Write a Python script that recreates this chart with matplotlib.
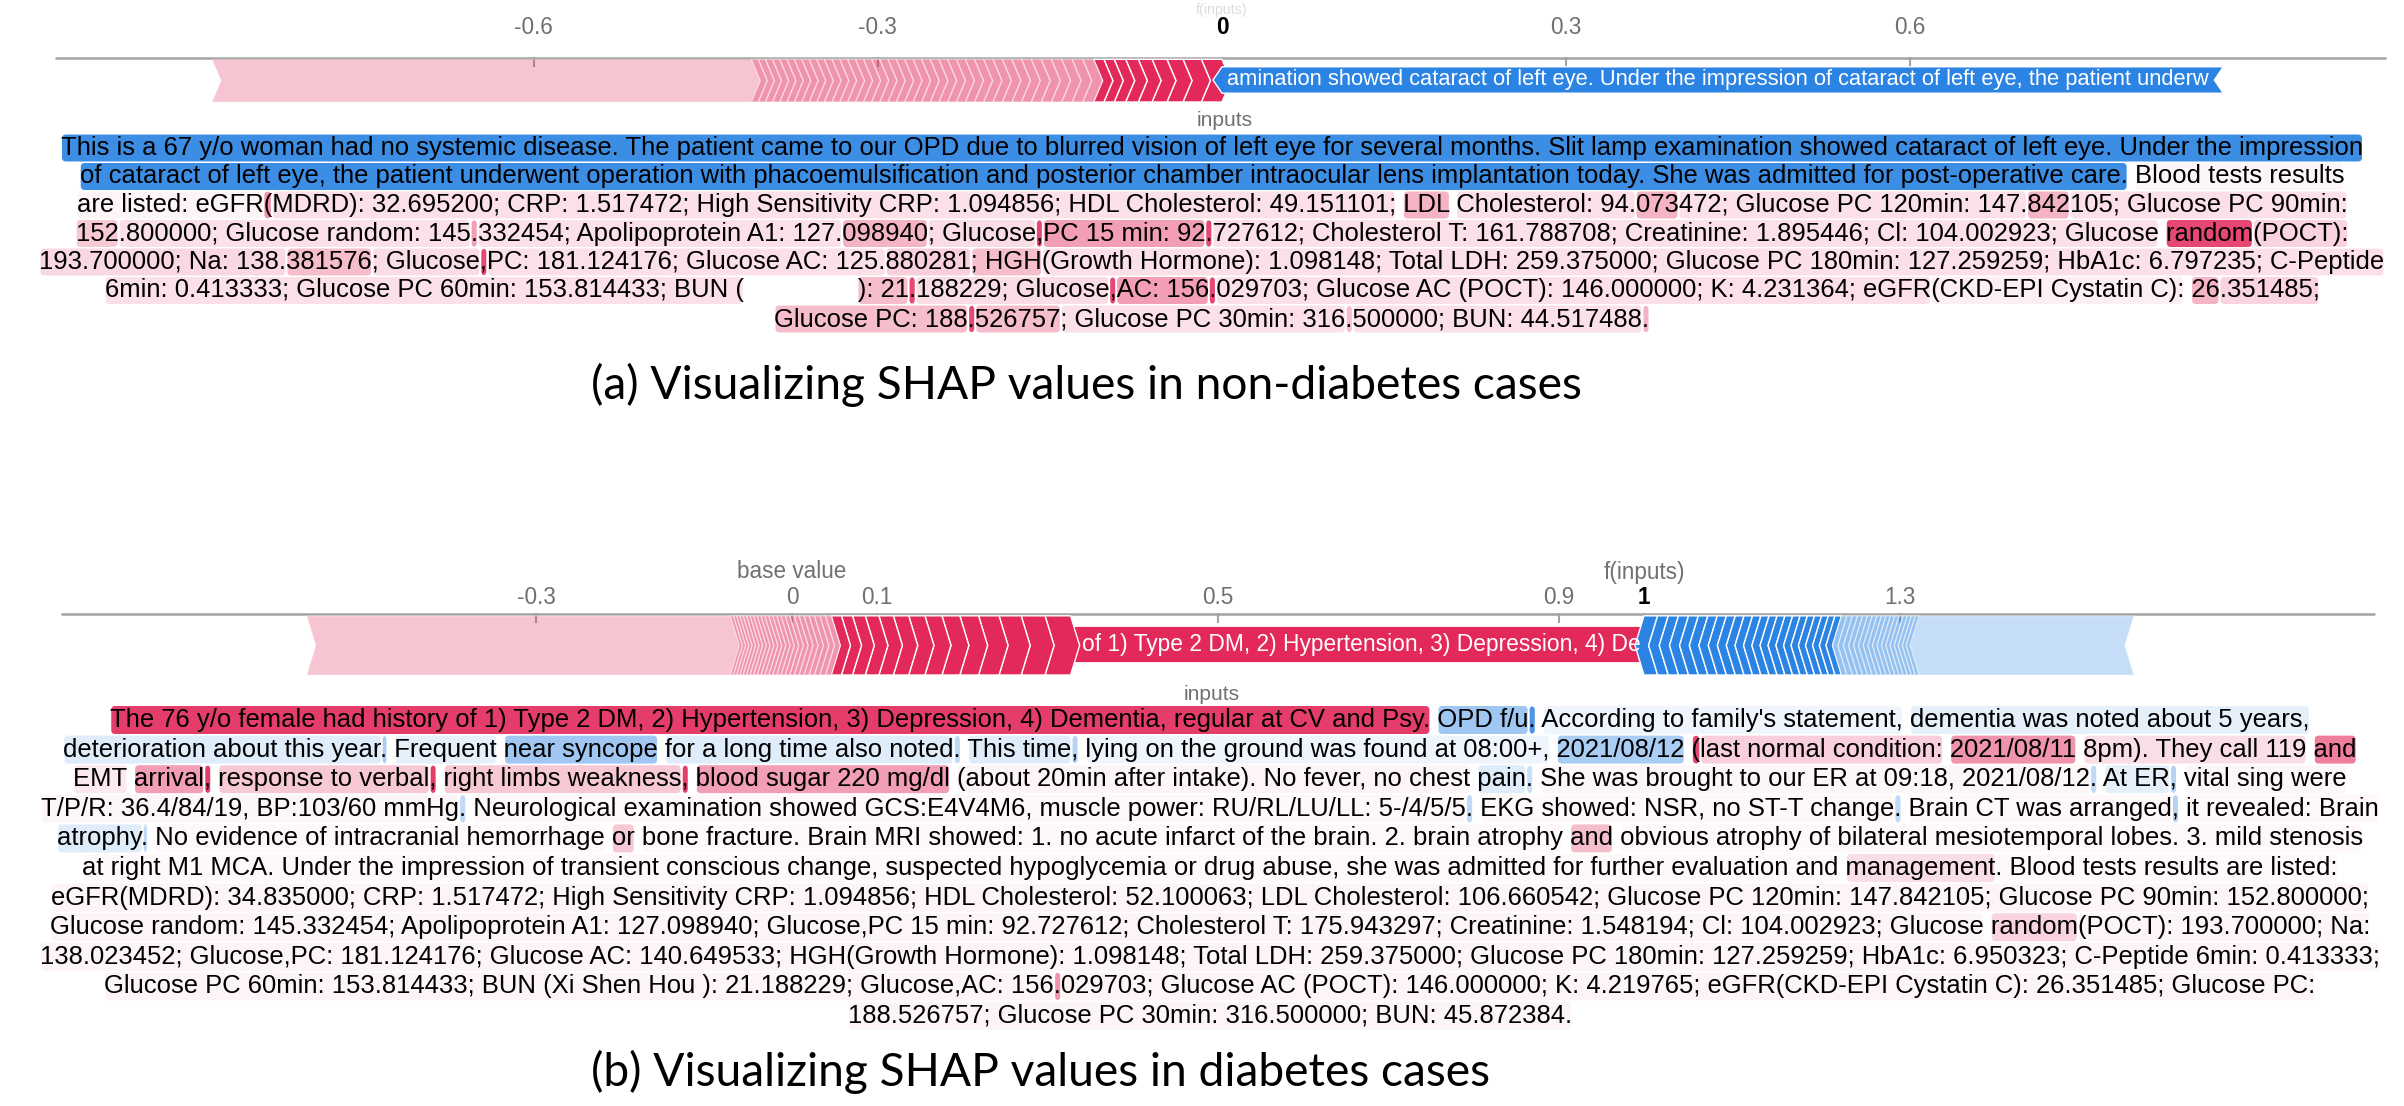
import matplotlib
matplotlib.use('Agg')
import matplotlib.pyplot as plt
from matplotlib import font_manager
from matplotlib.patches import Polygon, FancyBboxPatch

# ---------------- data ----------------
top_ticks = [-0.6, -0.3, 0, 0.3, 0.6]
top_fx = 0.0
top_red_strong = [0.018, 0.016, 0.014, 0.013, 0.012, 0.011, 0.010, 0.009, 0.009]
top_red_thin = [0.0095, 0.0093, 0.0091, 0.0090, 0.0088, 0.0087, 0.0085, 0.0084, 0.0083, 0.0082,
                0.0081, 0.0080, 0.0079, 0.0078, 0.0077, 0.0076, 0.0076, 0.0075, 0.0074, 0.0074,
                0.0073, 0.0072, 0.0072, 0.0071, 0.0070, 0.0070, 0.0069, 0.0068, 0.0068, 0.0067,
                0.0066, 0.0066, 0.0065, 0.0065, 0.0064, 0.0063, 0.0063, 0.0062, 0.0062, 0.0061]
top_red_rest = 0.470
top_blue_label = 0.873
top_blue_text = ("amination showed cataract of left eye. Under the impression of "
                 "cataract of left eye, the patient underw")

bot_ticks = [-0.3, 0, 0.1, 0.5, 0.9, 1, 1.3]
bot_base = 0.0
bot_fx = 1.0
bot_red_label = 0.673
bot_red_text = "of 1) Type 2 DM, 2) Hypertension, 3) Depression, 4) De"
bot_red_strong = [0.030, 0.028, 0.026, 0.024, 0.022, 0.021, 0.020, 0.019, 0.018, 0.017,
                  0.016, 0.015, 0.013, 0.012]
bot_red_thin = [0.0068, 0.0066, 0.0064, 0.0062, 0.0060, 0.0058, 0.0056, 0.0054, 0.0052, 0.0050,
                0.0049, 0.0048, 0.0047, 0.0046, 0.0045, 0.0044, 0.0043, 0.0042, 0.0041, 0.0040,
                0.0039, 0.0038, 0.0037, 0.0036]
bot_red_rest = 0.497
bot_blue_strong = [0.016, 0.0125, 0.012, 0.0118, 0.0115, 0.0112, 0.011, 0.0107, 0.0105, 0.0102,
                   0.010, 0.0098, 0.0096, 0.0094, 0.0092, 0.009, 0.0088, 0.0086, 0.0084, 0.0082,
                   0.008, 0.0078, 0.0076]
bot_blue_thin = [0.0065, 0.0063, 0.0061, 0.0059, 0.0057, 0.0056, 0.0055, 0.0054, 0.0053, 0.0052,
                 0.0051, 0.0050, 0.0049, 0.0048, 0.0047, 0.0046, 0.0045]
bot_blue_rest = 0.252

# text segments: (text, shap score) ; >0 red, <0 blue, None = no highlight
text_a = [
    [("This is a 67 y/o woman had no systemic disease. The patient came to our OPD due to blurred vision "
      "of left eye for several months. Slit lamp examination showed cataract of left eye. Under the impression", -0.92)],
    [("of cataract of left eye, the patient underwent operation with phacoemulsification and posterior chamber "
      "intraocular lens implantation today. She was admitted for post-operative care.", -0.92),
     (" Blood tests results", 0.04)],
    [("are listed: eGFR", 0.05), ("(", 0.5),
     ("MDRD): 32.695200; CRP: 1.517472; High Sensitivity CRP: 1.094856; HDL Cholesterol: 49.151101;", 0.14),
     (" LDL", 0.35), (" Cholesterol: 94.", 0.14), ("073", 0.35), ("472; Glucose PC 120min: 147.", 0.14),
     ("842", 0.35), ("105; Glucose PC 90min:", 0.14)],
    [("152", 0.25), (".800000; Glucose random: 145", 0.14), (".", 0.45),
     ("332454; Apolipoprotein A1: 127.", 0.14), ("098940", 0.35), ("; Glucose", 0.16), (",", 0.85),
     ("PC 15 min: 92", 0.45), (".", 0.85),
     ("727612; Cholesterol T: 161.788708; Creatinine: 1.895446; Cl: 104.002923; Glucose", 0.14),
     (" random", 0.85), ("(POCT):", 0.2)],
    [("193.700000; Na: 138.", 0.18), ("381576", 0.3), ("; Glucose", 0.16), (",", 0.85),
     ("PC: 181.124176; Glucose AC: 125.", 0.14), ("880281", 0.22), ("; HGH", 0.3),
     ("(Growth Hormone): 1.098148; Total LDH: 259.375000; Glucose PC 180min: 127.259259; "
      "HbA1c: 6.797235; C-Peptide", 0.14)],
    [("6min: 0.413333; Glucose PC 60min: 153.814433; BUN (", 0.14), ("                ", None),
     ("): 21", 0.3), (".", 0.85), ("188229; Glucose", 0.16), (",", 0.85), ("AC: 156", 0.45), (".", 0.85),
     ("029703; Glucose AC (POCT): 146.000000; K: 4.231364; eGFR", 0.14),
     ("(CKD-EPI Cystatin C):", 0.08), (" 26", 0.35), (".351485;", 0.2)],
    [("Glucose PC: 188", 0.3), (".", 0.85), ("526757", 0.3), ("; Glucose PC 30min: 316", 0.14),
     (".", 0.3), ("500000; BUN: 44.517488", 0.14), (".", 0.35)],
]

text_b = [
    [("The 76 y/o female had history of 1) Type 2 DM, 2) Hypertension, 3) Depression, 4) Dementia, "
      "regular at CV and Psy.", 0.9), (" OPD f/u", -0.45), (".", -0.85),
     (" According to family's statement,", -0.08), (" dementia was noted about 5 years,", -0.12)],
    [("deterioration about this year", -0.15), (".", -0.4), (" Frequent", -0.12), (" near syncope", -0.45),
     (" for a long time also noted", -0.15), (".", -0.3), (" This time", -0.15), (",", -0.35),
     (" lying on the ground was found at 08:00+,", -0.08), (" 2021/08/12", -0.4), (" ", None),
     ("(", 0.85), ("last normal condition:", 0.22), (" 2021/08/11", 0.5), (" 8pm). They call 119", 0.15),
     (" and", 0.6)],
    [("EMT", 0.1), (" arrival", 0.45), (",", 0.9), (" response to verbal", 0.25), (",", 0.9),
     (" right limbs weakness", 0.25), (",", 0.9), (" blood sugar 220 mg/dl", 0.45),
     (" (about 20min after intake). No fever, no chest", 0.05), (" pain", -0.15), (".", -0.25),
     (" She was brought to our ER at 09:18, 2021/08/12", 0.04), (".", -0.3), (" At ER", -0.12),
     (",", -0.35), (" vital sing were", 0.04)],
    [("T/P/R: 36.4/84/19, BP:103/60 mmHg", 0.04), (".", -0.3),
     (" Neurological examination showed GCS:E4V4M6, muscle power: RU/RL/LU/LL: 5-/4/5/5", 0.03), (".", -0.3),
     (" EKG showed: NSR, no ST-T change", 0.03), (".", -0.3), (" Brain CT was arranged", 0.03), (",", -0.35),
     (" it revealed: Brain", 0.03)],
    [("atrophy", -0.15), (".", -0.3), (" No evidence of intracranial hemorrhage", 0.03), (" or", 0.25),
     (" bone fracture. Brain MRI showed: 1. no acute infarct of the brain. 2. brain atrophy", 0.03),
     (" and", 0.3), (" obvious atrophy of bilateral mesiotemporal lobes. 3. mild stenosis", 0.03)],
    [("at right M1 MCA. Under the impression of transient conscious change, suspected hypoglycemia or drug "
      "abuse, she was admitted for further evaluation and", 0.03), (" management", 0.15),
     (". Blood tests results are listed:", 0.03)],
    [("eGFR(MDRD): 34.835000; CRP: 1.517472; High Sensitivity CRP: 1.094856; HDL Cholesterol: 52.100063; "
      "LDL Cholesterol: 106.660542; Glucose PC 120min: 147.842105; Glucose PC 90min: 152.800000;", 0.05)],
    [("Glucose random: 145.332454; Apolipoprotein A1: 127.098940; Glucose,PC 15 min: 92.727612; "
      "Cholesterol T: 175.943297; Creatinine: 1.548194; Cl: 104.002923; Glucose", 0.05), (" random", 0.2),
     ("(POCT): 193.700000; Na:", 0.05)],
    [("138.023452; Glucose,PC: 181.124176; Glucose AC: 140.649533; HGH(Growth Hormone): 1.098148; "
      "Total LDH: 259.375000; Glucose PC 180min: 127.259259; HbA1c: 6.950323; C-Peptide 6min: 0.413333;", 0.05)],
    [("Glucose PC 60min: 153.814433; BUN (Xi Shen Hou ): 21.188229; Glucose,AC: 156", 0.05), (".", 0.5),
     ("029703; Glucose AC (POCT): 146.000000; K: 4.219765; eGFR(CKD-EPI Cystatin C): 26.351485; "
      "Glucose PC:", 0.05)],
    [("188.526757; Glucose PC 30min: 316.500000; BUN: 45.872384.", 0.05)],
]

caption_a = "(a) Visualizing SHAP values in non-diabetes cases"
caption_b = "(b) Visualizing SHAP values in diabetes cases"

# ---------------- style ----------------
W, H = 2404, 1106
RED = '#e3285a'
BLUE = '#2b84e3'
GREY = '#707070'

try:
    font_manager.findfont('Liberation Sans Narrow', fallback_to_default=False)
    body_font = 'Liberation Sans Narrow'
except ValueError:
    body_font = 'Liberation Sans'
fam = [body_font, 'DejaVu Sans']

fig = plt.figure(figsize=(W / 100, H / 100), dpi=100)
ax = fig.add_axes([0, 0, 1, 1])
ax.set_xlim(0, W)
ax.set_ylim(H, 0)
ax.axis('off')
renderer = fig.canvas.get_renderer()


def text_width(s, size, family=fam, weight='normal'):
    t = ax.text(0, 0, s + '|', fontsize=size, family=family, weight=weight)
    w1 = t.get_window_extent(renderer).width
    t.set_text('|')
    w0 = t.get_window_extent(renderer).width
    t.remove()
    return w1 - w0


# fit the body font so that the widest line of the reference stays inside the picture
widest = max((''.join(s for s, _ in segs) for segs in text_a + text_b),
             key=lambda s: text_width(s, 20))
body_size = 20 * 2345 / text_width(widest, 20)


def draw_block(lines, y0, spacing, cx, box_h):
    for i, segs in enumerate(lines):
        y = y0 + i * spacing
        full = ''.join(s for s, _ in segs)
        total = text_width(full, body_size)
        xs = cx - total / 2
        prefix = ''
        for s, score in segs:
            lead = len(s) - len(s.lstrip(' '))
            core = s.strip(' ')
            if score is not None and core:
                xa = xs + text_width(prefix + s[:lead], body_size)
                xb = xs + text_width(prefix + s[:lead] + core, body_size)
                col = RED if score > 0 else BLUE
                ax.add_patch(FancyBboxPatch((xa + 1, y - box_h / 2), xb - xa - 2, box_h,
                                            boxstyle='round,pad=0,rounding_size=4',
                                            fc=col, alpha=min(abs(score), 1), ec='none', zorder=1))
            prefix += s
        ax.text(xs, y, full, fontsize=body_size, family=fam, va='center', ha='left',
                color='black', zorder=3)


def seg_label(axb, ppu, x0, x1, lo, hi, txt):
    # visible part of the feature text, shrunk to fit inside the box
    avail = (x1 - x0) * ppu - 8
    size = body_size * 0.9
    w = text_width(txt, size)
    if w > avail:
        size = size * avail / w
    axb.text((x0 + x1) / 2, (lo + hi) / 2, txt, ha='center', va='center', color='white',
             fontsize=size, family=fam, zorder=4)


def force_bar(y_axis, y_bot, zero_px, ppu, fx, red_segs, blue_segs, line_px, ticks, bold_tick,
              tick_off, d_px=9):
    h = y_bot - y_axis
    axb = fig.add_axes([0, 1 - y_bot / H, 1, h / H])
    axb.set_xlim(-zero_px / ppu, (W - zero_px) / ppu)
    axb.set_ylim(0, 1)
    axb.axis('off')
    d = d_px / ppu
    # axis line and ticks
    axb.plot([(line_px[0] - zero_px) / ppu, (line_px[1] - zero_px) / ppu], [1, 1],
             color='#a3a3a3', lw=1.8, zorder=0, clip_on=False, solid_capstyle='butt')
    for t in ticks:
        axb.plot([t, t], [1, 1 - 8 / h], color='#a3a3a3', lw=1.5, zorder=0, clip_on=False)
        bold = abs(t - bold_tick) < 1e-9
        axb.text(t, 1 + tick_off / h, f'{t:g}', ha='center', va='center', fontsize=body_size * 0.88,
                 family=fam, color='black' if bold else GREY,
                 weight='bold' if bold else 'normal', clip_on=False)
    styles = {'label': 1.0, 'strong': 1.0, 'thin': 0.5, 'rest': 0.27}
    # red features stack leftwards from f(x), chevrons point right
    x = fx
    for v, kind, txt in red_segs:
        x0, x1 = x - v, x
        lo, hi = (0.2, 0.8) if kind == 'label' else (0.0, 0.97)
        mid = (lo + hi) / 2
        axb.add_patch(Polygon([(x0, lo), (x1, lo), (x1 + d, mid), (x1, hi), (x0, hi), (x0 + d, mid)],
                              closed=True, fc=RED, alpha=styles[kind], ec='white', lw=1.0, zorder=2))
        if txt:
            seg_label(axb, ppu, x0 + d, x1, lo, hi, txt)
        x = x0
    # blue features stack rightwards from f(x), chevrons point left
    x = fx
    for v, kind, txt in blue_segs:
        x0, x1 = x, x + v
        lo, hi = (0.2, 0.8) if kind == 'label' else (0.0, 0.97)
        mid = (lo + hi) / 2
        axb.add_patch(Polygon([(x0, lo), (x1, lo), (x1 - d, mid), (x1, hi), (x0, hi), (x0 - d, mid)],
                              closed=True, fc=BLUE, alpha=styles[kind], ec='white', lw=1.0, zorder=2))
        if txt:
            seg_label(axb, ppu, x0, x1 - d, lo, hi, txt)
        x = x1
    return axb, h


# top force plot
top_red = ([(v, 'strong', None) for v in top_red_strong] + [(v, 'thin', None) for v in top_red_thin]
           + [(top_red_rest, 'rest', None)])
top_blue = [(top_blue_label, 'label', top_blue_text)]
axt, ht = force_bar(58, 102, 1222, 1147, top_fx, top_red, top_blue, (55, 2386), top_ticks, top_fx, 30)
axt.text(top_fx, 1 + 48 / ht, 'f(inputs)', ha='center', va='center', fontsize=body_size * 0.55,
         family=fam, color='#dcdcdc', clip_on=False)

# bottom force plot
bot_red = ([(bot_red_label, 'label', bot_red_text)] + [(v, 'strong', None) for v in bot_red_strong]
           + [(v, 'thin', None) for v in bot_red_thin] + [(bot_red_rest, 'rest', None)])
bot_blue = ([(v, 'strong', None) for v in bot_blue_strong] + [(v, 'thin', None) for v in bot_blue_thin]
            + [(bot_blue_rest, 'rest', None)])
axb2, hb = force_bar(614, 675, 792, 852, bot_fx, bot_red, bot_blue, (61, 2375), bot_ticks, bot_fx, 16)
axb2.text(bot_base, 1 + 42 / hb, 'base value', ha='center', va='center', fontsize=body_size * 0.88,
          family=fam, color=GREY, clip_on=False)
axb2.text(bot_fx, 1 + 42 / hb, 'f(inputs)', ha='center', va='center', fontsize=body_size * 0.88,
          family=fam, color=GREY, clip_on=False)

# "inputs" labels
ax.text(1225, 121, 'inputs', ha='center', va='center', fontsize=body_size * 0.82, family=fam, color=GREY)
ax.text(1212, 695, 'inputs', ha='center', va='center', fontsize=body_size * 0.82, family=fam, color=GREY)

# text blocks
draw_block(text_a, 148, 28.5, 1212, 27)
draw_block(text_b, 720, 29.6, 1210, 28)

# captions
cap_fam = ['Lato', 'DejaVu Sans']
cap_size = 30 * 990 / text_width(caption_a, 30, family=cap_fam)
ax.text(591, 385, caption_a, ha='left', va='center', fontsize=cap_size, family=cap_fam, color='black')
ax.text(591, 1072, caption_b, ha='left', va='center', fontsize=cap_size, family=cap_fam, color='black')

fig.savefig('out.png', dpi=100, facecolor='white')
